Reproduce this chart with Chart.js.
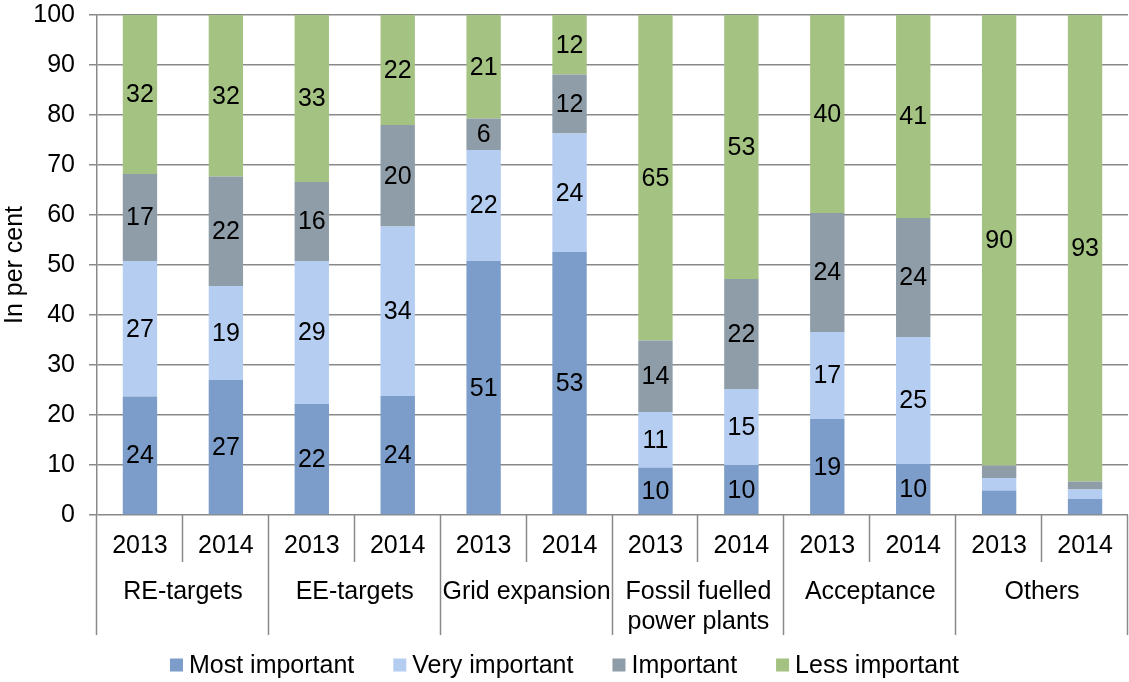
<!DOCTYPE html>
<html>
<head>
<meta charset="utf-8">
<script src="https://cdn.jsdelivr.net/npm/chart.js@4"></script>
<style>
html,body{margin:0;padding:0;background:#fff;}
#wrap{width:1129px;height:682px;position:relative;}
</style>
</head>
<body>
<div id="wrap"><canvas id="c" width="1129" height="682"></canvas></div>
<script>
const groups = [['RE-targets'], ['EE-targets'], ['Grid expansion'], ['Fossil fuelled', 'power plants'], ['Acceptance'], ['Others']];
const years = ['2013', '2014'];
const categories = ['RE 2013','RE 2014','EE 2013','EE 2014','Grid 2013','Grid 2014','Fossil 2013','Fossil 2014','Acceptance 2013','Acceptance 2014','Others 2013','Others 2014'];
const mostImportant = [23.7, 27.0, 22.2, 23.8, 50.8, 52.6, 9.5, 10.0, 19.2, 10.2, 4.9, 3.2];
const veryImportant = [27.1, 18.8, 28.6, 33.9, 22.2, 23.7, 11.1, 15.2, 17.4, 25.4, 2.5, 1.9];
const important = [17.4, 21.9, 15.8, 20.3, 6.3, 11.8, 14.3, 22.0, 23.8, 23.8, 2.5, 1.6];
const lessImportant = [31.8, 32.3, 33.4, 22.0, 20.7, 11.9, 65.1, 52.8, 39.6, 40.6, 90.1, 93.3];
const yTicks = [0, 10, 20, 30, 40, 50, 60, 70, 80, 90, 100];

const FONT = '"Liberation Sans", Arial, sans-serif';
const FS = 25;
const GRID = '#898989';

const valueLabels = {
  id: 'valueLabels',
  afterDatasetsDraw(chart) {
    const ctx = chart.ctx;
    ctx.save();
    ctx.font = FS + 'px ' + FONT;
    ctx.fillStyle = '#000';
    ctx.textAlign = 'center';
    ctx.textBaseline = 'middle';
    chart.data.datasets.forEach((ds, di) => {
      const meta = chart.getDatasetMeta(di);
      meta.data.forEach((bar, i) => {
        const v = ds.data[i];
        if (v < 5) return;
        ctx.fillText(String(Math.round(v)), bar.x, (bar.y + bar.base) / 2 + 1);
      });
    });
    ctx.restore();
  }
};

const multiAxis = {
  id: 'multiAxis',
  afterDraw(chart) {
    const ctx = chart.ctx;
    const x = chart.scales.x;
    const area = chart.chartArea;
    const n = categories.length;
    const w = (area.right - area.left) / n;
    const y0 = area.bottom;
    ctx.save();
    ctx.strokeStyle = GRID;
    ctx.lineWidth = 1.5;
    for (let i = 0; i <= n; i++) {
      const px = Math.round(area.left + i * w) - 0.5;
      const len = (i % 2 === 0) ? 120 : 47;
      ctx.beginPath();
      ctx.moveTo(px, y0);
      ctx.lineTo(px, y0 + len);
      ctx.stroke();
    }
    ctx.font = FS + 'px ' + FONT;
    ctx.fillStyle = '#000';
    ctx.textAlign = 'center';
    ctx.textBaseline = 'middle';
    for (let i = 0; i < n; i++) {
      ctx.fillText(years[i % 2], x.getPixelForValue(i), y0 + 31);
    }
    groups.forEach((g, gi) => {
      const cx = (x.getPixelForValue(gi * 2) + x.getPixelForValue(gi * 2 + 1)) / 2;
      g.forEach((line, li) => {
        ctx.fillText(line, cx, y0 + 77 + li * 30);
      });
    });
    // legend
    const items = chart.data.datasets.map(d => ({ text: d.label, color: d.backgroundColor }));
    const box = 13, gapText = 19, gapItem = 39;
    const widths = items.map(it => gapText + ctx.measureText(it.text).width);
    const total = widths.reduce((a, b) => a + b, 0) + gapItem * (items.length - 1);
    let lx = (chart.width - total) / 2;
    const ly = 665;
    ctx.textAlign = 'left';
    items.forEach((it, k) => {
      ctx.fillStyle = it.color;
      ctx.fillRect(lx, ly - box / 2, box, box);
      ctx.fillStyle = '#000';
      ctx.fillText(it.text, lx + gapText, ly + 1);
      lx += widths[k] + gapItem;
    });
    ctx.restore();
  }
};

new Chart(document.getElementById('c'), {
  type: 'bar',
  data: {
    labels: categories,
    datasets: [
      { label: 'Most important', data: mostImportant, backgroundColor: '#7c9cc9' },
      { label: 'Very important', data: veryImportant, backgroundColor: '#b4cdf1' },
      { label: 'Important', data: important, backgroundColor: '#8f9da8' },
      { label: 'Less important', data: lessImportant, backgroundColor: '#a4c382' }
    ]
  },
  options: {
    responsive: false,
    animation: false,
    events: [],
    datasets: { bar: { barPercentage: 1, categoryPercentage: 0.4, borderWidth: 0 } },
    layout: { padding: { top: 0, right: 1, left: 0, bottom: 47 } },
    plugins: {
      tooltip: { enabled: false },
      legend: { display: false }
    },
    scales: {
      x: {
        stacked: true,
        ticks: { display: false },
        grid: { display: false },
        border: { display: false },
        afterFit(s) { s.height = 120; }
      },
      y: {
        stacked: true,
        min: 0, max: 100,
        afterBuildTicks(s) { s.ticks = yTicks.map(v => ({ value: v })); },
        ticks: { font: { family: FONT, size: FS, lineHeight: 0.08 }, color: '#000', padding: 14 },
        grid: { color: GRID, lineWidth: 1.5, tickLength: 8, drawTicks: true },
        border: { color: GRID, width: 1.5 },
        title: { display: true, text: 'In per cent', font: { family: FONT, size: FS }, color: '#000', padding: 0 },
        afterFit(s) { s.width = 97; }
      }
    }
  },
  plugins: [valueLabels, multiAxis]
});
</script>
</body>
</html>
